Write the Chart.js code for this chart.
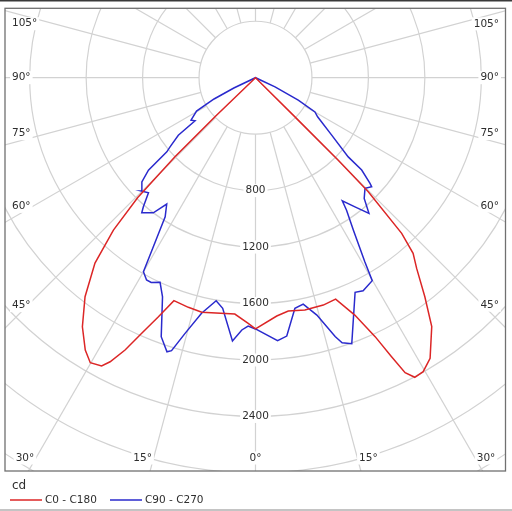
<!DOCTYPE html>
<html>
<head>
<meta charset="utf-8">
<script src="https://cdn.jsdelivr.net/npm/chart.js@4/dist/chart.umd.min.js"></script>
<style>
  html, body { margin: 0; padding: 0; background: #fff; }
  #wrap { width: 512px; height: 511px; position: relative; }
</style>
</head>
<body>
<div id="wrap"><canvas id="chart"></canvas></div>
<script>
'use strict';

// luminous intensity (cd) against gamma angle (deg), one array pair per half plane
const c180Gamma = [0, 1.7, 5.0, 12.9, 16.3, 20.1, 22.1, 24.0, 25.6, 27.1, 28.1, 30.1, 32.0, 34.8, 37.9, 40.9, 43.0, 44.5, 45.5, 46.0, 90];
const c180Cd    = [1780, 1741, 1681, 1705, 1695, 1682, 1828, 1982, 2139, 2261, 2315, 2334, 2276, 2149, 1966, 1737, 1476, 1190, 800, 399, 0];

const c0Gamma = [0, 5.1, 8.0, 12.0, 16.6, 19.9, 22.7, 24.8, 26.0, 26.9, 28.0, 29.7, 31.9, 35.3, 37.7, 40.2, 41.9, 43.2, 44.7, 45.1, 45.2, 90];
const c0Cd    = [1780, 1695, 1669, 1683, 1681, 1668, 1823, 2021, 2199, 2343, 2404, 2398, 2341, 2161, 1962, 1769, 1672, 1513, 1136, 828, 394, 0];

const c270Gamma = [0, 1.7, 3.1, 5.0, 8.1, 10.0, 12.9, 15.4, 17.1, 17.9, 20.0, 23.0, 25.0, 27.0, 28.3, 30.0, 32.1, 33.0, 35.1, 37.1, 40.1, 41.0, 42.9, 45.3, 47.5, 49.2, 50.1, 51.0, 53.3, 54.5, 56.6, 60.5, 62.8, 64.5, 90];
const c270Cd    = [1780, 1760, 1790, 1873, 1650, 1605, 1712, 1879, 2023, 2041, 1953, 1686, 1600, 1628, 1628, 1588, 1274, 1175, 1094, 1200, 1251, 1211, 1114, 1141, 1092, 1002, 819, 779, 682, 526, 547, 480, 330, 170, 0];

const c90Gamma = [0, 4.8, 6.9, 9.7, 11.9, 14.5, 17.1, 18.1, 19.9, 24.9, 26.8, 29.9, 30.7, 32.7, 34.5, 35.2, 37.6, 39.9, 42.0, 44.7, 46.8, 47.3, 49.0, 49.5, 53.0, 57.8, 60.1, 62.3, 64.7, 90];
const c90Cd    = [1780, 1870, 1844, 1658, 1639, 1737, 1919, 1976, 2004, 1676, 1691, 1659, 1517, 1283, 1139, 1067, 1155, 1253, 1151, 1103, 1129, 1104, 997, 864, 676, 520, 486, 342, 153, 0];

const seriesLabels = ['C0 - C180', 'C90 - C270'];
const seriesColors = ['rgb(220, 38, 38)', 'rgb(42, 42, 205)'];
const radialTicks = [800, 1200, 1600, 2000, 2400];
const angleTicks = [0, 15, 30, 45, 60, 75, 90, 105];
const unitLabel = 'cd';

const ringStep = 400;
const spokeStep = 15;
const FONT = '"DejaVu Sans", Verdana, sans-serif';
const rad = d => d * Math.PI / 180;

// left half goes up from nadir, right half comes back down, so the curve closes
function polarLoop(leftG, leftI, rightG, rightI) {
  const pts = [];
  for (let i = 0; i < leftG.length; i++) {
    pts.push({x: -leftI[i] * Math.sin(rad(leftG[i])), y: -leftI[i] * Math.cos(rad(leftG[i]))});
  }
  for (let i = rightG.length - 1; i >= 0; i--) {
    pts.push({x: rightI[i] * Math.sin(rad(rightG[i])), y: -rightI[i] * Math.cos(rad(rightG[i]))});
  }
  return pts;
}

function labelBox(ctx, text, x, y, align) {
  const w = ctx.measureText(text).width;
  let bx = x - w / 2;
  if (align === 'left') bx = x;
  if (align === 'right') bx = x - w;
  ctx.fillStyle = '#fff';
  ctx.fillRect(bx - 2, y - 6.5, w + 4, 13);
  ctx.fillStyle = '#2e2e2e';
  ctx.textAlign = align;
  ctx.fillText(text, x, y);
}

const polarGrid = {
  id: 'polarGrid',
  beforeDraw(chart) {
    const {ctx, width} = chart;
    ctx.save();
    ctx.fillStyle = '#fff';
    ctx.fillRect(0, 0, width, chart.height);
    ctx.strokeStyle = '#3a3a3a';
    ctx.lineWidth = 1.5;
    ctx.beginPath(); ctx.moveTo(0, 0.75); ctx.lineTo(width, 0.75); ctx.stroke();
    ctx.strokeStyle = '#b0b0b0';
    ctx.beginPath(); ctx.moveTo(0, 510); ctx.lineTo(width, 510); ctx.stroke();
    ctx.restore();
  },
  beforeDatasetsDraw(chart) {
    const {ctx, chartArea: a, scales} = chart;
    const cx = scales.x.getPixelForValue(0);
    const cy = scales.y.getPixelForValue(0);
    const ppc = (scales.x.getPixelForValue(1000) - cx) / 1000;

    ctx.save();
    ctx.beginPath();
    ctx.rect(a.left, a.top, a.right - a.left, a.bottom - a.top);
    ctx.clip();

    ctx.strokeStyle = '#d2d2d2';
    ctx.lineWidth = 1.2;
    for (let r = ringStep; r <= 4400; r += ringStep) {
      ctx.beginPath();
      ctx.arc(cx, cy, r * ppc, 0, Math.PI * 2);
      ctx.stroke();
    }
    for (let g = 0; g < 360; g += spokeStep) {
      const s = Math.sin(rad(g)), c = Math.cos(rad(g));
      ctx.beginPath();
      ctx.moveTo(cx + s * ringStep * ppc, cy + c * ringStep * ppc);
      ctx.lineTo(cx + s * 5000 * ppc, cy + c * 5000 * ppc);
      ctx.stroke();
    }

    ctx.font = '10.5px ' + FONT;
    ctx.textBaseline = 'middle';
    radialTicks.forEach(v => labelBox(ctx, String(v), cx, cy + v * ppc, 'center'));

    // angle labels sit just inside the frame, next to their spoke
    angleTicks.forEach(g => {
      [-1, 1].forEach(side => {
        if (g === 0 && side === 1) return;
        const text = g + '\u00b0';
        if (g <= 30) {
          const y = a.bottom - 13;
          const x = cx + side * ((y - cy) * Math.tan(rad(g)) + (g ? 11 : 0));
          labelBox(ctx, text, x, y, 'center');
        } else {
          const x = side < 0 ? a.left + 7 : a.right - 6.5;
          const half = 15.5;
          const dx = side < 0 ? cx - (a.left + half) : (a.right - half) - cx;
          let y = cy + dx / Math.tan(rad(g));
          if (g < 90) y -= 7;
          if (g > 90) y += 9;
          labelBox(ctx, text, x, y, side < 0 ? 'left' : 'right');
        }
      });
    });
    ctx.restore();
  },
  afterDraw(chart) {
    const {ctx, chartArea: a} = chart;
    ctx.save();
    ctx.strokeStyle = '#707070';
    ctx.lineWidth = 1.3;
    ctx.strokeRect(a.left, a.top, a.right - a.left, a.bottom - a.top);

    // legend
    ctx.fillStyle = '#2e2e2e';
    ctx.textBaseline = 'middle';
    ctx.textAlign = 'left';
    ctx.font = '12px ' + FONT;
    ctx.fillText(unitLabel, a.left + 7, a.bottom + 15);
    ctx.font = '10.5px ' + FONT;
    let x = a.left + 5;
    const y = a.bottom + 29;
    chart.data.datasets.forEach(ds => {
      ctx.strokeStyle = ds.borderColor;
      ctx.lineWidth = 1.5;
      ctx.beginPath(); ctx.moveTo(x, y); ctx.lineTo(x + 32, y); ctx.stroke();
      ctx.fillStyle = '#2e2e2e';
      ctx.fillText(ds.label, x + 35, y);
      x += 100;
    });
    ctx.restore();
  }
};

new Chart(document.getElementById('chart').getContext('2d'), {
  type: 'scatter',
  data: {
    datasets: [
      {
        label: seriesLabels[0],
        data: polarLoop(c180Gamma, c180Cd, c0Gamma, c0Cd),
        borderColor: seriesColors[0],
        backgroundColor: seriesColors[0]
      },
      {
        label: seriesLabels[1],
        data: polarLoop(c270Gamma, c270Cd, c90Gamma, c90Cd),
        borderColor: seriesColors[1],
        backgroundColor: seriesColors[1]
      }
    ]
  },
  options: {
    responsive: true,
    maintainAspectRatio: false,
    animation: false,
    showLine: true,
    elements: {
      point: {radius: 0, hoverRadius: 0},
      line: {borderWidth: 1.5, tension: 0, fill: false}
    },
    layout: {padding: {left: 5, right: 6.5, top: 8.3, bottom: 40}},
    scales: {
      x: {type: 'linear', min: -1774.8, max: 1771.3, display: false},
      y: {type: 'linear', min: -2786.5, max: 491.7, display: false}
    },
    plugins: {
      legend: {display: false},
      tooltip: {enabled: false}
    }
  },
  plugins: [polarGrid]
});
</script>
</body>
</html>
